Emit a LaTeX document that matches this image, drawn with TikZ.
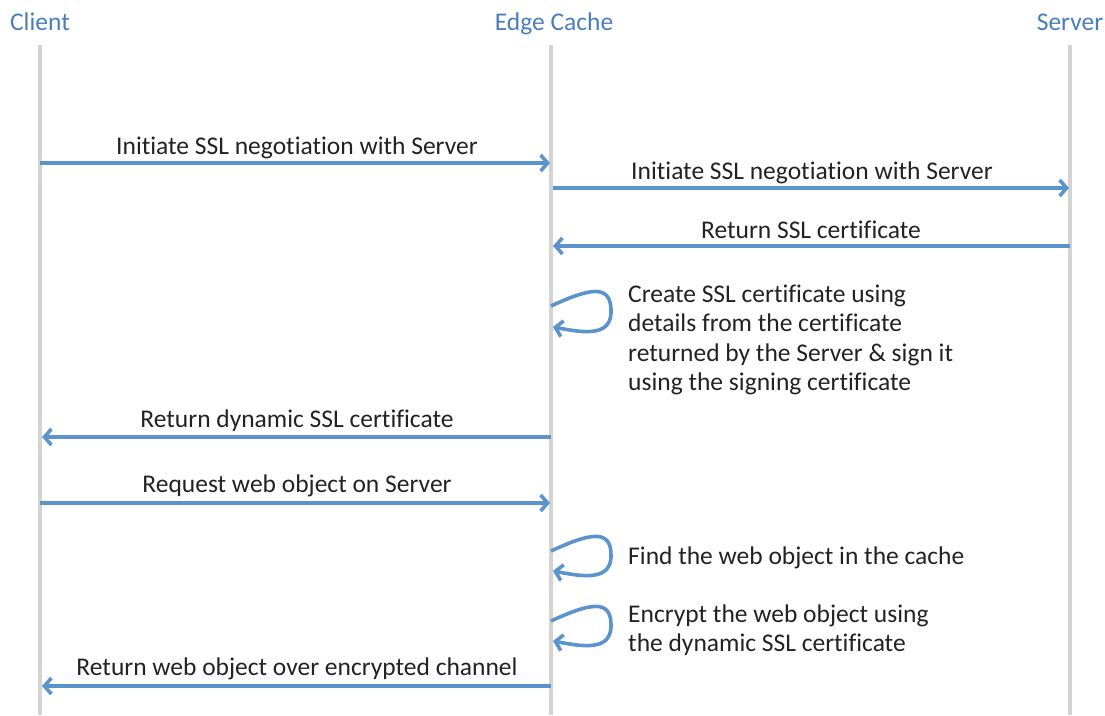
\documentclass[tikz,border=0pt]{standalone}
\usepackage{fontspec}
\setmainfont{Carlito}[Ligatures=NoCommon]
\usetikzlibrary{arrows.meta}
\definecolor{hdr}{HTML}{4A7EBB}
\definecolor{arr}{HTML}{5B93CD}
\definecolor{life}{HTML}{D3D3D3}
\definecolor{txt}{HTML}{222222}
\begin{document}
\begin{tikzpicture}[x=1pt,y=-1pt,
  hdrlbl/.style={text=hdr,font=\fontsize{25.5}{29.5}\selectfont,inner sep=0pt,anchor=base},
  lbl/.style={text=txt,font=\fontsize{25.5}{29.5}\selectfont,inner sep=0pt,anchor=base},
  note/.style={text=txt,font=\fontsize{25.5}{29.5}\selectfont,inner sep=0pt,anchor=base west},
  lifeline/.style={draw=life,line width=3.5pt},
  msg/.style={draw=arr,line width=3.6pt,-{Straight Barb[length=7pt,width=16pt]}},
  selfloop/.style={draw=arr,line width=3.6pt,-{Straight Barb[length=7pt,width=16pt]}}]
\useasboundingbox (0,0) rectangle (1105,715);
% headers
\node[hdrlbl] (client) at (40,30) {Client};
\node[hdrlbl] (edge) at (554,30) {Edge Cache};
\node[hdrlbl] (server) at (1070,30) {Server};
% lifelines
\coordinate (ctop) at (40,45);   \coordinate (cbot) at (40,715);
\coordinate (etop) at (551,45);  \coordinate (ebot) at (551,715);
\coordinate (stop) at (1070,45); \coordinate (sbot) at (1070,715);
\draw[lifeline] (ctop) -- (cbot);
\draw[lifeline] (etop) -- (ebot);
\draw[lifeline] (stop) -- (sbot);
% message 1
\coordinate (c1) at (40,163); \coordinate (e1) at (550,163);
\draw[msg] (c1) -- (e1);
\node[lbl] (l1) at (297,154) {Initiate SSL negotiation with Server};
% message 2
\coordinate (e2) at (553,188); \coordinate (s2) at (1069,188);
\draw[msg] (e2) -- (s2);
\node[lbl] (l2) at (812,179) {Initiate SSL negotiation with Server};
% message 3
\coordinate (s3) at (1070,246); \coordinate (e3) at (553,246);
\draw[msg] (s3) -- (e3);
\node[lbl] (l3) at (811,238) {Return SSL certificate};
% self loop 1
\coordinate (la1) at (551,306); \coordinate (lb1) at (553,327);
\draw[selfloop] (la1) .. controls (590,288) and (612,283) .. (611,313)
   .. controls (610,338) and (580,332) .. (lb1);
\node[note] (n1a) at (628,302) {Create SSL certificate using};
\node[note] (n1b) at (628,331) {details from the certificate};
\node[note] (n1c) at (628,361) {returned by the Server \& sign it};
\node[note] (n1d) at (628,390) {using the signing certificate};
% message 5
\coordinate (e5) at (551,437); \coordinate (c5) at (42,437);
\draw[msg] (e5) -- (c5);
\node[lbl] (l5) at (297,427) {Return dynamic SSL certificate};
% message 6
\coordinate (c6) at (40,503); \coordinate (e6) at (550,503);
\draw[msg] (c6) -- (e6);
\node[lbl] (l6) at (297,492) {Request web object on Server};
% self loop 2
\coordinate (la2) at (551,551); \coordinate (lb2) at (553,571);
\draw[selfloop] (la2) .. controls (590,533) and (612,528) .. (611,557)
   .. controls (610,582) and (580,576) .. (lb2);
\node[note] (n2) at (628,564) {Find the web object in the cache};
% self loop 3
\coordinate (la3) at (551,621); \coordinate (lb3) at (553,641);
\draw[selfloop] (la3) .. controls (590,603) and (612,598) .. (611,627)
   .. controls (610,652) and (580,646) .. (lb3);
\node[note] (n3a) at (628,622) {Encrypt the web object using};
\node[note] (n3b) at (628,651) {the dynamic SSL certificate};
% message 9
\coordinate (e9) at (551,686); \coordinate (c9) at (42,686);
\draw[msg] (e9) -- (c9);
\node[lbl] (l9) at (297,675) {Return web object over encrypted channel};
\end{tikzpicture}
\end{document}
